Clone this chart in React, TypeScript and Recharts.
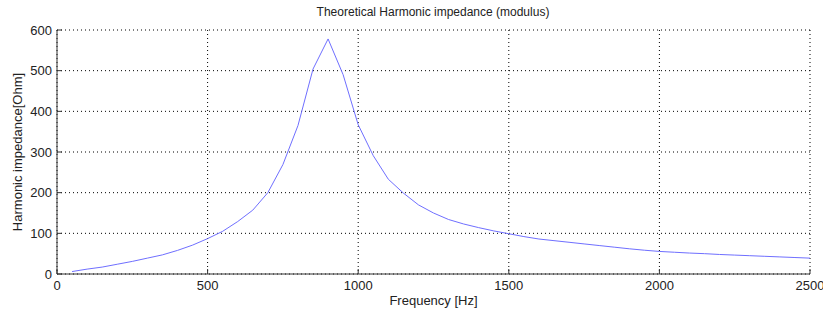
import React from 'react';
import { LineChart, Line, XAxis, YAxis, CartesianGrid } from 'recharts';

// harmonic frequencies (Hz), every 50 Hz
const freqs = [
  50, 100, 150, 200, 250, 300, 350, 400, 450, 500,
  550, 600, 650, 700, 750, 800, 850, 900, 950, 1000,
  1050, 1100, 1150, 1200, 1250, 1300, 1350, 1400, 1450, 1500,
  1550, 1600, 1650, 1700, 1750, 1800, 1850, 1900, 1950, 2000,
  2050, 2100, 2150, 2200, 2250, 2300, 2350, 2400, 2450, 2500,
];

// |Z| (Ohm)
const impedance = [
  6, 12, 17, 24, 31, 39, 47, 58, 71, 87,
  105, 129, 157, 200, 269, 365, 504, 578, 490, 367,
  291, 233, 199, 170, 150, 134, 123, 114, 106, 99,
  92, 86, 82, 78, 74, 70, 66, 62, 58.5, 55.5,
  53.5, 51.5, 50, 48, 46.5, 45, 43.5, 42, 40.5, 39,
];

const xTicks = [0, 500, 1000, 1500, 2000, 2500];
const yTicks = [0, 100, 200, 300, 400, 500, 600];

const data = freqs.map((f, i) => ({ f, z: impedance[i] }));

const font = '"Liberation Sans", Arial, sans-serif';
const tickStyle = { fontSize: 13, fill: '#222', fontFamily: font };
const noLabel = () => <g />;

export default function App() {
  return (
    <div style={{ position: 'absolute', left: 0, top: 0, width: 823, height: 311, background: '#fff' }}>
      <div
        style={{
          position: 'absolute', left: 0, top: 5, width: 866, textAlign: 'center',
          fontFamily: font, fontSize: 12, color: '#222',
        }}
      >
        Theoretical Harmonic impedance (modulus)
      </div>
      <div
        style={{
          position: 'absolute', left: 18, top: 152, width: 240, marginLeft: -120, marginTop: -8,
          height: 16, lineHeight: '16px', textAlign: 'center', transform: 'rotate(-90deg)',
          fontFamily: font, fontSize: 13, color: '#222', whiteSpace: 'nowrap',
        }}
      >
        Harmonic impedance[Ohm]
      </div>
      <LineChart
        width={823}
        height={311}
        data={data}
        margin={{ top: 30, right: 13, left: 17, bottom: 7 }}
        style={{ position: 'absolute', left: 0, top: 0 }}
      >
        <CartesianGrid xAxisId="b" yAxisId="l" stroke="#000" strokeDasharray="1 3" />
        <XAxis
          xAxisId="b"
          dataKey="f"
          type="number"
          domain={[0, 2500]}
          ticks={xTicks}
          tickSize={-5}
          tickMargin={12}
          tick={tickStyle}
          stroke="#333"
          height={30}
          interval={0}
          label={{ value: 'Frequency [Hz]', position: 'insideBottom', offset: -1, style: { fontSize: 13, fill: '#222', fontFamily: font } }}
        />
        <XAxis
          xAxisId="t"
          orientation="top"
          dataKey="f"
          type="number"
          domain={[0, 2500]}
          ticks={xTicks}
          tickSize={-5}
          tick={noLabel}
          stroke="#777"
          height={0}
        />
        <YAxis
          yAxisId="l"
          domain={[0, 600]}
          ticks={yTicks}
          tickSize={-5}
          tickMargin={10}
          tick={tickStyle}
          stroke="#333"
          width={40}
          interval={0}
        />
        <YAxis
          yAxisId="r"
          orientation="right"
          domain={[0, 600]}
          ticks={yTicks}
          tickSize={-5}
          tick={noLabel}
          stroke="#333"
          width={0}
        />
        <Line
          xAxisId="b"
          yAxisId="l"
          type="linear"
          dataKey="z"
          stroke="#6f6fff"
          strokeWidth={1}
          dot={false}
          isAnimationActive={false}
        />
      </LineChart>
    </div>
  );
}
